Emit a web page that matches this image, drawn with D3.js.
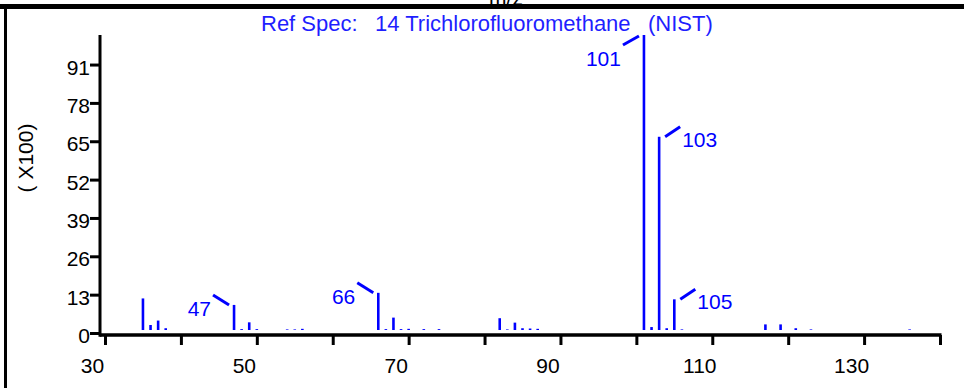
<!DOCTYPE html>
<html>
<head>
<meta charset="utf-8">
<script src="https://cdn.jsdelivr.net/npm/d3@7"></script>
<style>
  html, body { margin: 0; padding: 0; background: #fff; }
  svg { display: block; }
</style>
</head>
<body>
<svg id="chart" width="964" height="388"></svg>
<script>
// Reference spectrum: m/z values and relative abundance (x100)
const massToCharge = [35, 36, 37, 38, 47, 48, 49, 50, 54, 55, 56,
                      66, 67, 68, 69, 70, 72, 74,
                      82, 83, 84, 85, 86, 87,
                      101, 102, 103, 104, 105, 106,
                      117, 119, 121, 123, 136];
const abundance = [10.7, 1.7, 3.2, 0.6, 8.5, 0.3, 2.6, 0.3, 0.2, 0.2, 0.4,
                   12.6, 0.3, 4.2, 0.3, 0.4, 0.3, 0.3,
                   4.0, 0.2, 2.5, 0.6, 0.5, 0.4,
                   100, 1.0, 65.5, 0.6, 10.4, 0.2,
                   1.9, 1.9, 0.6, 0.2, 0.2];
const labeledPeaks = [47, 66, 101, 103, 105];
const xTickValues = [30, 40, 50, 60, 70, 80, 90, 100, 110, 120, 130, 140];
const xTickLabels = [30, 50, 70, 90, 110, 130];
const yTickValues = [0, 13, 26, 39, 52, 65, 78, 91];
const titleParts = ["Ref Spec:", "14 Trichlorofluoromethane", "(NIST)"];

const blue = "#0000ff";
const titleBlue = "#1f1fff";
const font = "'Liberation Sans', Arial, sans-serif";

const svg = d3.select("#chart");

const x = d3.scaleLinear().domain([30, 140]).range([105, 940]);
const y = d3.scaleLinear().domain([0, 100]).range([330, 35]);
const axisY = 335;   // x-axis line sits a little below the peak baseline
const axisX = 100;   // y-axis line

// Axis title of the panel above, mostly hidden behind the frame
svg.append("text")
  .attr("x", 506).attr("y", 5)
  .attr("text-anchor", "middle")
  .style("font", `21px ${font}`)
  .attr("fill", "#000")
  .text("m/z");

// Panel frame
svg.append("rect").attr("x", 0).attr("y", 4).attr("width", 964).attr("height", 5).attr("fill", "#000");
svg.append("line").attr("x1", 5.5).attr("x2", 5.5).attr("y1", 9).attr("y2", 388)
  .attr("stroke", "#000").attr("stroke-width", 3);

// Title
const titleX = [261, 375, 648];
svg.append("g").selectAll("text").data(titleParts).join("text")
  .attr("x", (d, i) => titleX[i])
  .attr("y", 31)
  .attr("fill", titleBlue)
  .style("font", `22px ${font}`)
  .text(d => d);

// X axis
const xAxis = d3.axisBottom(x)
  .tickValues(xTickValues)
  .tickSize(10)
  .tickSizeOuter(0)
  .tickPadding(13)
  .tickFormat(d => xTickLabels.includes(d) ? String(d) : "");
const gx = svg.append("g").attr("transform", `translate(0,${axisY})`).call(xAxis);
gx.select(".domain").remove();
gx.selectAll(".tick line").attr("stroke", "#000").attr("stroke-width", 3);
gx.selectAll(".tick text")
  .attr("dx", -13)
  .attr("fill", "#000")
  .style("font", `21px ${font}`);
svg.append("line")
  .attr("x1", axisX).attr("x2", x(140) + 1.5)
  .attr("y1", axisY).attr("y2", axisY)
  .attr("stroke", "#000").attr("stroke-width", 3.5);

// Y axis
const yAxis = d3.axisLeft(y)
  .tickValues(yTickValues)
  .tickSize(10)
  .tickSizeOuter(0)
  .tickPadding(0)
  .tickFormat(d3.format("d"));
const gy = svg.append("g").attr("transform", `translate(${axisX},3)`).call(yAxis);
gy.select(".domain").remove();
gy.selectAll(".tick line").attr("stroke", "#000").attr("stroke-width", 3);
gy.selectAll(".tick text")
  .attr("dy", "0.45em")
  .attr("fill", "#000")
  .style("font", `21px ${font}`);
svg.append("line")
  .attr("x1", axisX).attr("x2", axisX)
  .attr("y1", y(100)).attr("y2", axisY + 1.75)
  .attr("stroke", "#000").attr("stroke-width", 3);

svg.append("text")
  .attr("transform", `translate(25,158) rotate(-90)`)
  .attr("text-anchor", "middle")
  .attr("dominant-baseline", "central")
  .attr("fill", "#000")
  .style("font", `21px ${font}`)
  .text("( X100)");

// Peaks
const peaks = massToCharge.map((m, i) => ({ m, v: abundance[i] }));
svg.append("g").selectAll("line").data(peaks).join("line")
  .attr("x1", d => x(d.m)).attr("x2", d => x(d.m))
  .attr("y1", y(0)).attr("y2", d => y(d.v))
  .attr("stroke", blue)
  .attr("stroke-width", 2.6);

// Peak callouts: leader from the peak tip plus the m/z value
const calloutLayout = {
  upLeft:   { lead: [[-5, 0], [-21, -10]], text: [-23, 11], anchor: "end" },
  downLeft: { lead: [[-5, 1], [-21, 10]],  text: [-23, 31], anchor: "end" },
  upRight:  { lead: [[6, 0],  [21, -10]],  text: [23, 10],  anchor: "start" }
};
const calloutSide = { 47: "upLeft", 66: "upLeft", 101: "downLeft", 103: "upRight", 105: "upRight" };

const callouts = labeledPeaks.map(m => {
  const v = abundance[massToCharge.indexOf(m)];
  return { m, px: x(m), py: y(v), lay: calloutLayout[calloutSide[m]] };
});
const gc = svg.append("g");
gc.selectAll("line").data(callouts).join("line")
  .attr("x1", d => d.px + d.lay.lead[0][0]).attr("y1", d => d.py + d.lay.lead[0][1])
  .attr("x2", d => d.px + d.lay.lead[1][0]).attr("y2", d => d.py + d.lay.lead[1][1])
  .attr("stroke", blue).attr("stroke-width", 3);
gc.selectAll("text").data(callouts).join("text")
  .attr("x", d => d.px + d.lay.text[0])
  .attr("y", d => d.py + d.lay.text[1])
  .attr("text-anchor", d => d.lay.anchor)
  .attr("fill", blue)
  .style("font", `21px ${font}`)
  .text(d => d.m);
</script>
</body>
</html>
